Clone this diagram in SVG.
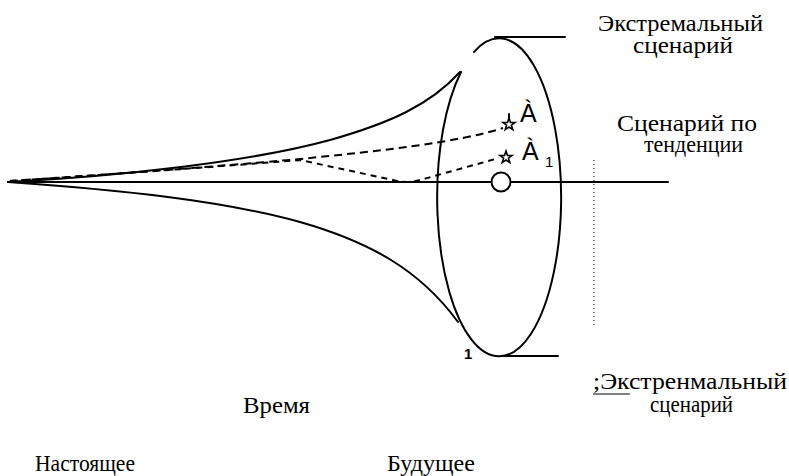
<svg xmlns="http://www.w3.org/2000/svg" width="789" height="476" viewBox="0 0 789 476">
<style>
.ln{fill:none;stroke:#000;stroke-width:2;stroke-linecap:round}
.ds{fill:none;stroke:#000;stroke-width:2;stroke-dasharray:8 5}
.ds2{fill:none;stroke:#000;stroke-width:2;stroke-dasharray:6 5}
.st{fill:none;stroke:#000;stroke-width:1.6;stroke-linejoin:miter}
.dot{fill:none;stroke:#000;stroke-width:1;stroke-dasharray:1 3}
</style>
<rect width="789" height="476" fill="#fff"/>
<g id="connectors">
<path class="ln" d="M8,182 L668,182"/>
<path class="ds" d="M10,181 C100,175 200,168 300,159 C380,151 460,142 503,128"/>
<path class="ds2" d="M10,181 C100,175 200,168 300,160 L393,180 Q407,184 420,180 L499,158"/>
<path class="dot" d="M594,160 L594,326"/>
</g>
<g id="horn">
<path class="ln" d="M8,182 C120,176 250,162 330,140 C390,123 430,105 460,72"/>
<path class="ln" d="M8,182 C120,190 220,200 300,222 C370,242 420,270 458,322"/>
</g>
<g id="ellipse">
<path class="ln" stroke-width="2.4" d="M474,52 A62,159 0 1 1 461,72"/>
<path class="ln" d="M495,37 L565,37"/>
<path class="ln" d="M503,356 L558,356"/>
<text font-family="Liberation Sans" x="464" y="359" font-size="15" font-weight="bold">1</text>
</g>
<g id="trend">
<circle cx="501" cy="182" r="9.5" fill="#fff" stroke="#000" stroke-width="2"/>
</g>
<g id="pointA">
<polygon class="st" points="509,118 510.5,122.5 515,122.5 511.4,125.2 512.8,129.6 509,127 505.2,129.6 506.6,125.2 503,122.5 507.5,122.5"/>
<path class="ln" stroke-width="1.5" d="M509,114 L509,119"/>
<text font-family="Liberation Sans" x="520" y="122" font-size="25">À</text>
</g>
<g id="pointA1">
<polygon class="st" points="506,151 507.5,155.5 512,155.5 508.4,158.2 509.8,162.6 506,160 502.2,162.6 503.6,158.2 500,155.5 504.5,155.5"/>
<text font-family="Liberation Sans" x="522" y="160" font-size="25">À</text>
<text font-family="Liberation Sans" x="545" y="167" font-size="15">1</text>
</g>
<g id="label-extreme-top">
<text font-family="Liberation Serif" font-size="24" x="598" y="31" textLength="165" lengthAdjust="spacingAndGlyphs">Экстремальный</text>
<text font-family="Liberation Serif" font-size="24" x="633" y="53" textLength="100" lengthAdjust="spacingAndGlyphs">сценарий</text>
</g>
<g id="label-trend">
<text font-family="Liberation Serif" font-size="24" x="617" y="131" textLength="140" lengthAdjust="spacingAndGlyphs">Сценарий по</text>
<text font-family="Liberation Serif" font-size="24" x="644" y="152" textLength="99" lengthAdjust="spacingAndGlyphs">тенденции</text>
</g>
<g id="label-extreme-bottom">
<text font-family="Liberation Serif" font-size="24" x="593" y="389" textLength="194" lengthAdjust="spacingAndGlyphs">;Экстренмальный</text>
<path d="M593,394 L630,394" stroke="#000" stroke-width="1.2"/>
<text font-family="Liberation Serif" font-size="23" x="650" y="412" textLength="83" lengthAdjust="spacingAndGlyphs">сценарий</text>
</g>
<g id="label-time">
<text font-family="Liberation Serif" font-size="24" x="243" y="413" textLength="67" lengthAdjust="spacingAndGlyphs">Время</text>
</g>
<g id="label-present">
<text font-family="Liberation Serif" font-size="24" x="35" y="471" textLength="100" lengthAdjust="spacingAndGlyphs">Настоящее</text>
</g>
<g id="label-future">
<text font-family="Liberation Serif" font-size="24" x="387" y="471" textLength="88" lengthAdjust="spacingAndGlyphs">Будущее</text>
</g>
</svg>
